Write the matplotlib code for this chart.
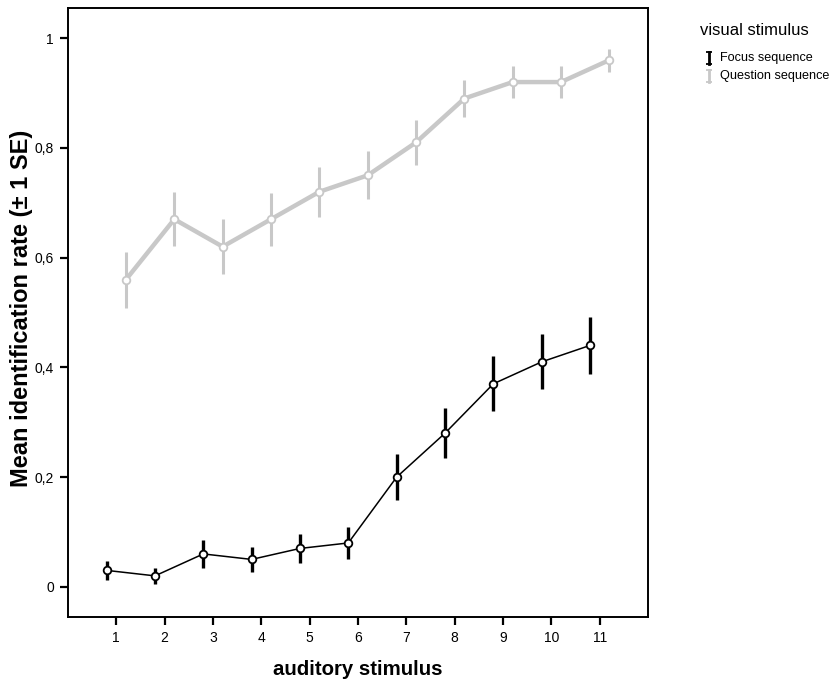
import matplotlib.pyplot as plt
from matplotlib.lines import Line2D
import numpy as np

plt.rcParams['font.family'] = ['Liberation Sans', 'DejaVu Sans']

stimulus = np.arange(1, 12)
x_ticks = [str(s) for s in stimulus]
y_ticks = [0, 0.2, 0.4, 0.6, 0.8, 1.0]
y_tick_labels = ['0', '0,2', '0,4', '0,6', '0,8', '1']

focus_mean = [0.03, 0.02, 0.06, 0.05, 0.07, 0.08, 0.20, 0.28, 0.37, 0.41, 0.44]
focus_se = [0.018, 0.015, 0.025, 0.023, 0.026, 0.029, 0.042, 0.046, 0.05, 0.05, 0.052]
question_mean = [0.56, 0.67, 0.62, 0.67, 0.72, 0.75, 0.81, 0.89, 0.92, 0.92, 0.96]
question_se = [0.051, 0.049, 0.05, 0.048, 0.046, 0.044, 0.041, 0.033, 0.029, 0.029, 0.021]

series_names = ['Focus sequence', 'Question sequence']
grey = '#c8c8c8'

fig = plt.figure(figsize=(8.3, 6.83), dpi=100)
ax = fig.add_axes([0.0819, 0.0966, 0.6988, 0.8917])

# question sequence: thick grey line, shifted right of the tick
ax.errorbar(stimulus + 0.2, question_mean, yerr=question_se, color=grey,
            lw=3.2, elinewidth=2.2, capsize=0, marker='o', ms=5.5,
            mfc='white', mec=grey, mew=1.3, zorder=2)
# focus sequence: thin black line, shifted left of the tick
ax.errorbar(stimulus - 0.2, focus_mean, yerr=focus_se, color='black',
            lw=1.1, elinewidth=2.4, capsize=0, marker='o', ms=5.5,
            mfc='white', mec='black', mew=1.3, zorder=3)

ax.set_xlim(0, 12)
ax.set_ylim(-0.055, 1.055)
ax.set_xticks(stimulus)
ax.set_xticklabels(x_ticks)
ax.set_yticks(y_ticks)
ax.set_yticklabels(y_tick_labels)
ax.tick_params(direction='out', length=6, width=1.6, labelsize=10, pad=4)
for sp in ax.spines.values():
    sp.set_linewidth(1.4)

# axis titles placed in figure coordinates
fig.text(0.431, 0.020, 'auditory stimulus', fontsize=14.7, fontweight='bold',
         ha='center', va='center')
fig.text(0.0265, 0.548, 'Mean identification rate (\u00b1 1 SE)', fontsize=17,
         fontweight='bold', rotation=90, ha='center', va='center')

# legend drawn by hand: title, error bar icons, labels
fig.text(0.843, 0.955, 'visual stimulus', fontsize=12, ha='left', va='center')
rows = [0.915, 0.889]
colors = ['black', grey]
for y, c, name in zip(rows, colors, series_names):
    x0 = 0.854
    fig.add_artist(Line2D([x0, x0], [y - 0.009, y + 0.009], color=c, lw=2,
                          transform=fig.transFigure))
    for yy in (y - 0.009, y + 0.009):
        fig.add_artist(Line2D([x0 - 0.004, x0 + 0.004], [yy, yy], color=c,
                              lw=1.3, solid_capstyle='butt',
                              transform=fig.transFigure))
    fig.text(0.868, y, name, fontsize=9.1, ha='left', va='center')

fig.savefig('out.png', dpi=100)
